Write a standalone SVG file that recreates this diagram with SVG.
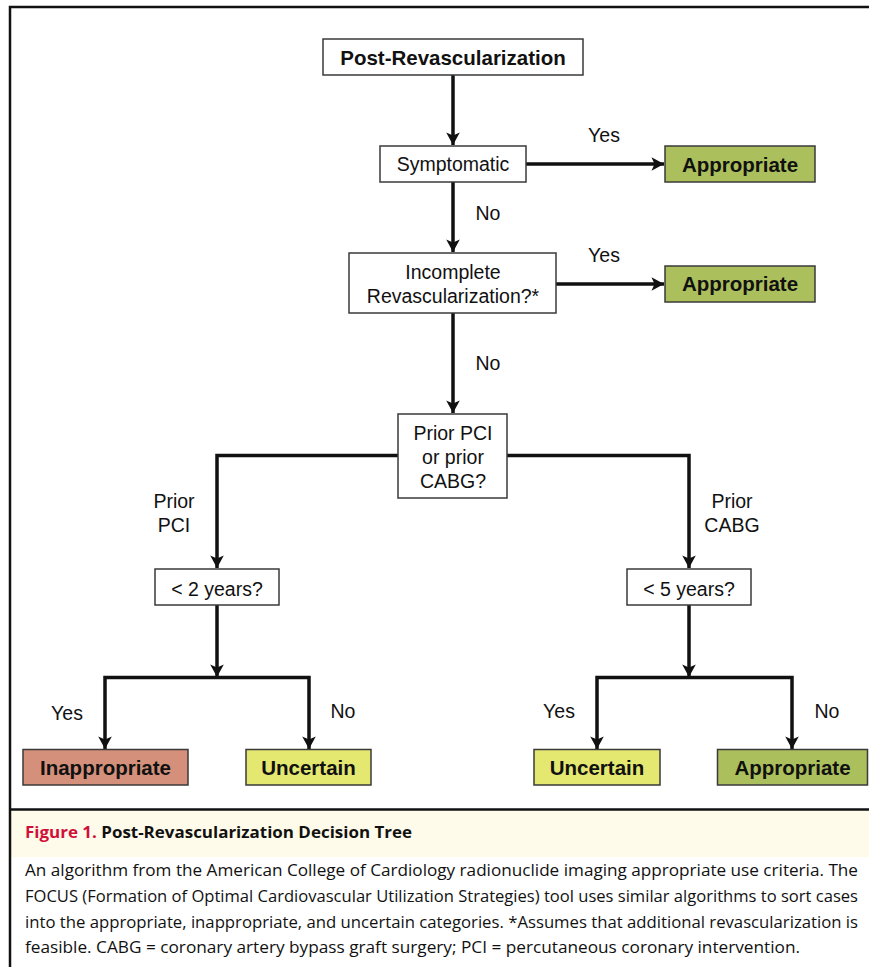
<svg xmlns="http://www.w3.org/2000/svg" width="869" height="967" viewBox="0 0 869 967">
<style>
  .box { fill: #ffffff; stroke: #3a3a3a; stroke-width: 1.5; }
  .appr { fill: #abbf5c; stroke: #3a3a3a; stroke-width: 1.5; }
  .inap { fill: #d4907a; stroke: #3a3a3a; stroke-width: 1.5; }
  .unc { fill: #e4e870; stroke: #3a3a3a; stroke-width: 1.5; }
  .t { font-family: "Liberation Sans", Arial, sans-serif; font-size: 19.5px; fill: #111; text-anchor: middle; }
  .tb { font-family: "Liberation Sans", Arial, sans-serif; font-size: 20.5px; font-weight: bold; fill: #111; text-anchor: middle; }
  .lbl { font-family: "Liberation Sans", Arial, sans-serif; font-size: 19.5px; fill: #111; text-anchor: middle; }
  .conn { fill: none; stroke: #111; stroke-width: 3.5; stroke-linejoin: miter; stroke-linecap: butt; }
  .frame { fill: none; stroke: #111; stroke-width: 2.5; }
  .cap { font-family: "Open Sans", "Liberation Sans", sans-serif; font-size: 16px; fill: #111; }
  .capt { font-family: "Open Sans", "Liberation Sans", sans-serif; font-size: 16.5px; font-weight: bold; fill: #111; }
</style>
<defs>
  <marker id="arr" markerUnits="userSpaceOnUse" markerWidth="16" markerHeight="16" viewBox="-14 -8 15 16" refX="0" refY="0" orient="auto">
    <path d="M0,0 L-12.5,-6.8 L-9.5,0 L-12.5,6.8 Z" fill="#111"/>
  </marker>
</defs>
<rect x="0" y="0" width="869" height="967" fill="#ffffff"/>
<g id="frame">
  <rect x="11" y="811" width="858" height="46" fill="#fffbea"/>
  <path class="frame" d="M10,967 V7 H869"/>
  <line class="frame" x1="10" y1="809.5" x2="869" y2="809.5"/>
</g>
<g id="connectors">
  <path class="conn" d="M453,75 V145" marker-end="url(#arr)"/>
  <path class="conn" d="M526,164 H664" marker-end="url(#arr)"/>
  <path class="conn" d="M453,182 V252" marker-end="url(#arr)"/>
  <path class="conn" d="M556,284 H664" marker-end="url(#arr)"/>
  <path class="conn" d="M453,313 V413" marker-end="url(#arr)"/>
  <path class="conn" d="M398,455.5 H217 V568" marker-end="url(#arr)"/>
  <path class="conn" d="M507,455.5 H689 V568" marker-end="url(#arr)"/>
  <path class="conn" d="M217,605 V677" marker-end="url(#arr)"/>
  <path class="conn" d="M217,677.5 H105 V749" marker-end="url(#arr)"/>
  <path class="conn" d="M217,677.5 H309 V749" marker-end="url(#arr)"/>
  <path class="conn" d="M689,605 V677" marker-end="url(#arr)"/>
  <path class="conn" d="M689,677.5 H597 V749" marker-end="url(#arr)"/>
  <path class="conn" d="M689,677.5 H792 V749" marker-end="url(#arr)"/>
  <text class="lbl" x="604" y="142">Yes</text>
  <text class="lbl" x="488" y="220">No</text>
  <text class="lbl" x="604" y="262">Yes</text>
  <text class="lbl" x="488" y="370">No</text>
  <text class="lbl" x="174" y="508">Prior</text>
  <text class="lbl" x="174" y="532">PCI</text>
  <text class="lbl" x="732" y="508">Prior</text>
  <text class="lbl" x="732" y="532">CABG</text>
  <text class="lbl" x="67" y="720">Yes</text>
  <text class="lbl" x="343" y="718">No</text>
  <text class="lbl" x="559" y="718">Yes</text>
  <text class="lbl" x="827" y="718">No</text>
</g>
<g id="n-post">
  <rect class="box" x="323" y="39" width="260" height="36"/>
  <text class="tb" x="453" y="65">Post-Revascularization</text>
</g>
<g id="n-symptomatic">
  <rect class="box" x="380" y="146" width="146" height="36"/>
  <text class="t" x="453" y="171">Symptomatic</text>
</g>
<g id="n-appropriate1">
  <rect class="appr" x="665" y="146" width="150" height="36"/>
  <text class="tb" x="740" y="171.5">Appropriate</text>
</g>
<g id="n-incomplete">
  <rect class="box" x="349" y="253" width="207" height="60"/>
  <text class="t" x="453" y="279">Incomplete</text>
  <text class="t" x="453" y="303">Revascularization?*</text>
</g>
<g id="n-appropriate2">
  <rect class="appr" x="665" y="266" width="150" height="36"/>
  <text class="tb" x="740" y="291">Appropriate</text>
</g>
<g id="n-prior">
  <rect class="box" x="398" y="414" width="109" height="84"/>
  <text class="t" x="453" y="440">Prior PCI</text>
  <text class="t" x="453" y="464">or prior</text>
  <text class="t" x="453" y="488">CABG?</text>
</g>
<g id="n-2years">
  <rect class="box" x="155" y="569" width="124" height="36"/>
  <text class="t" x="217" y="595.5">&lt; 2 years?</text>
</g>
<g id="n-5years">
  <rect class="box" x="627" y="569" width="124" height="36"/>
  <text class="t" x="689" y="595.5">&lt; 5 years?</text>
</g>
<g id="n-inappropriate">
  <rect class="inap" x="23" y="749.5" width="165" height="35.5"/>
  <text class="tb" x="105.5" y="775">Inappropriate</text>
</g>
<g id="n-uncertain1">
  <rect class="unc" x="246" y="749.5" width="125" height="35.5"/>
  <text class="tb" x="308.5" y="775">Uncertain</text>
</g>
<g id="n-uncertain2">
  <rect class="unc" x="534" y="749.5" width="126" height="35.5"/>
  <text class="tb" x="597" y="775">Uncertain</text>
</g>
<g id="n-appropriate3">
  <rect class="appr" x="717.5" y="749.5" width="150" height="35.5"/>
  <text class="tb" x="792.5" y="775">Appropriate</text>
</g>
<g id="caption">
  <text class="capt" x="25" y="838" textLength="387" lengthAdjust="spacingAndGlyphs"><tspan fill="#d0103a">Figure 1.</tspan> Post-Revascularization Decision Tree</text>
  <text class="cap" x="25" y="876" textLength="833" lengthAdjust="spacingAndGlyphs">An algorithm from the American College of Cardiology radionuclide imaging appropriate use criteria. The</text>
  <text class="cap" x="25" y="902" textLength="833" lengthAdjust="spacingAndGlyphs">FOCUS (Formation of Optimal Cardiovascular Utilization Strategies) tool uses similar algorithms to sort cases</text>
  <text class="cap" x="25" y="928" textLength="833" lengthAdjust="spacingAndGlyphs">into the appropriate, inappropriate, and uncertain categories. *Assumes that additional revascularization is</text>
  <text class="cap" x="25" y="953" textLength="775" lengthAdjust="spacingAndGlyphs">feasible. CABG = coronary artery bypass graft surgery; PCI = percutaneous coronary intervention.</text>
</g>
</svg>
